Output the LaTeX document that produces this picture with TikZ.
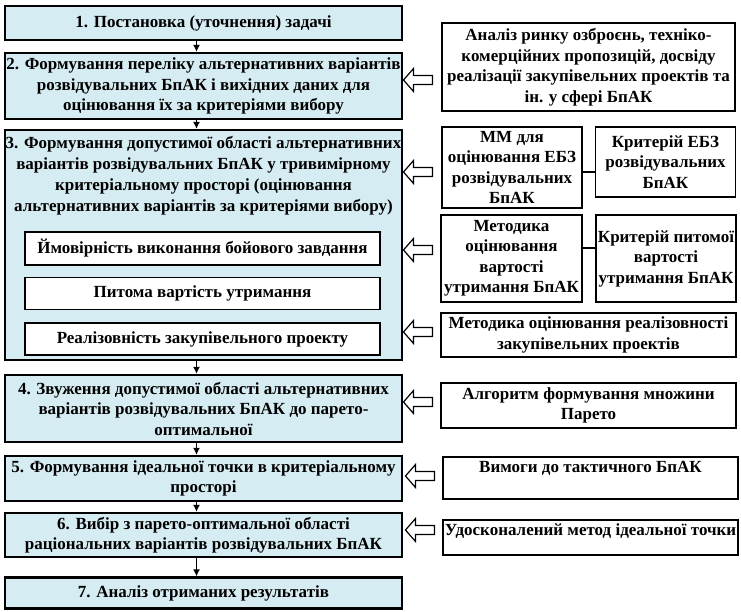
\documentclass[tikz,border=0pt]{standalone}
\usepackage{fontspec}
\setmainfont{Liberation Serif}
\usetikzlibrary{arrows.meta,positioning}
\definecolor{stagefill}{RGB}{214,236,243}

\newcommand{\boxfont}{\fontsize{17}{20.5}\selectfont\bfseries}

\tikzset{
  stage/.style={draw,line width=2.2pt,fill=stagefill,minimum width=397pt,align=center,inner sep=1pt,font=\boxfont},
  crit/.style={draw,line width=1.6pt,fill=white,minimum width=355pt,minimum height=32pt,inner sep=1pt,font=\boxfont},
  src/.style={draw,line width=1.6pt,fill=white,align=center,inner sep=1pt,font=\boxfont},
  hollow/.pic={\draw[line width=1.2pt,fill=white] (-14.5,0) -- (-4.5,-11.5) -- (-4.5,-4.5) -- (14.5,-4.5)
    -- (14.5,4.5) -- (-4.5,4.5) -- (-4.5,11.5) -- cycle;},
  flow/.style={-{Latex[length=7pt,width=7pt]},line width=1.6pt},
  link/.style={line width=1.6pt}
}

\begin{document}
\begin{tikzpicture}[x=1pt,y=-1pt]
%\draw[step=50,gray,very thin] (0,0) grid (741,611); %background grid
\useasboundingbox (0,0) rectangle (741,611);

% main stages
\node[stage,minimum height=34pt] (s1) at (203.5,23) {1. Постановка (уточнення) задачі};
\node[stage,minimum height=66pt] (s2) at (203.5,86) {2. Формування переліку альтернативних варіантів\\розвідувальних БпАК і вихідних даних для\\оцінювання їх за критеріями вибору};
\node[stage,minimum height=230pt] (s3) at (203.5,245) {};
\node[align=center,anchor=north,inner sep=0pt,font=\fontsize{17}{21}\selectfont\bfseries] (t3) at (203.5,136) {3. Формування допустимої області альтернативних\\варіантів розвідувальних БпАК у тривимірному\\критеріальному просторі (оцінювання\\альтернативних варіантів за критеріями вибору)};
\node[crit,minimum height=33pt] (p1) at (202.5,248.5) {Ймовірність виконання бойового завдання};
\node[crit,below=11pt of p1] (p2) {Питома вартість утримання};
\node[crit,below=12pt of p2] (p3) {Реалізовність закупівельного проекту};
\node[stage,minimum height=67pt] (s4) at (203.5,408.5) {4. Звуження допустимої області альтернативних\\варіантів розвідувальних БпАК до парето-\\оптимальної};
\node[stage,minimum height=45pt] (s5) at (203.5,478.5) {5. Формування ідеальної точки в критеріальному\\просторі};
\node[stage,minimum height=44pt] (s6) at (203.5,535) {6. Вибір з парето-оптимальної області\\раціональних варіантів розвідувальних БпАК};
\node[stage,minimum height=31pt] (s7) at (203.5,593) {7. Аналіз отриманих результатів};

\draw[flow] ([xshift=-7pt]s1.south) -- ([xshift=-7pt]s2.north);
\draw[flow] ([xshift=-7pt]s2.south) -- ([xshift=-7pt]s3.north);
\draw[flow] ([xshift=-7pt]s3.south) -- ([xshift=-7pt]s4.north);
\draw[flow] ([xshift=-7pt]s4.south) -- ([xshift=-7pt]s5.north);
\draw[flow] ([xshift=-7pt]s5.south) -- ([xshift=-7pt]s6.north);
\draw[flow] ([xshift=-7pt]s6.south) -- ([xshift=-7pt]s7.north);

% inputs
\node[src,minimum width=293pt,minimum height=88pt] (r1) at (588.5,67) {Аналіз ринку озброєнь, техніко-\\комерційних пропозицій, досвіду\\реалізації закупівельних проектів та\\ін. у сфері БпАК};
\node[src,minimum width=140pt,minimum height=81pt] (mm) at (512,167.5) {ММ для\\оцінювання ЕБЗ\\розвідувальних\\БпАК};
\node[src,minimum width=140pt,minimum height=70pt] (ke) at (665.5,162) {Критерій ЕБЗ\\розвідувальних\\БпАК};
\node[src,minimum width=141pt,minimum height=87pt] (mv) at (511.5,258.5) {Методика\\оцінювання\\вартості\\утримання БпАК};
\node[src,minimum width=140pt,minimum height=87pt] (kp) at (666,258.5) {Критерій питомої\\вартості\\утримання БпАК};
\node[src,minimum width=295pt,minimum height=44pt] (mr) at (588.5,335) {Методика оцінювання реалізовності\\закупівельних проектів};
\node[src,minimum width=295pt,minimum height=45pt] (al) at (588.5,405.5) {Алгоритм формування множини\\Парето};
\node[src,minimum width=295pt,inner ysep=2pt,text height=13pt,text depth=25pt] (vy) at (590.5,478) {Вимоги до тактичного БпАК};
\node[src,minimum width=295pt,inner ysep=2pt,text height=13pt,text depth=18pt] (ud) at (590.5,537.5) {Удосконалений метод ідеальної точки};

\draw[link] (mm.east |- 0,172) -- (ke.west |- 0,172);
\draw[link] (mv.east |- 0,248) -- (kp.west |- 0,248);

\pic (h2) at (418,80) {hollow};
\pic (h3) at (418,172) {hollow};
\pic (h4) at (418,250) {hollow};
\pic (h5) at (418,332) {hollow};
\pic (h6) at (418,402) {hollow};
\pic (h7) at (420,476) {hollow};
\pic (h8) at (420,530) {hollow};

\end{tikzpicture}
\end{document}
